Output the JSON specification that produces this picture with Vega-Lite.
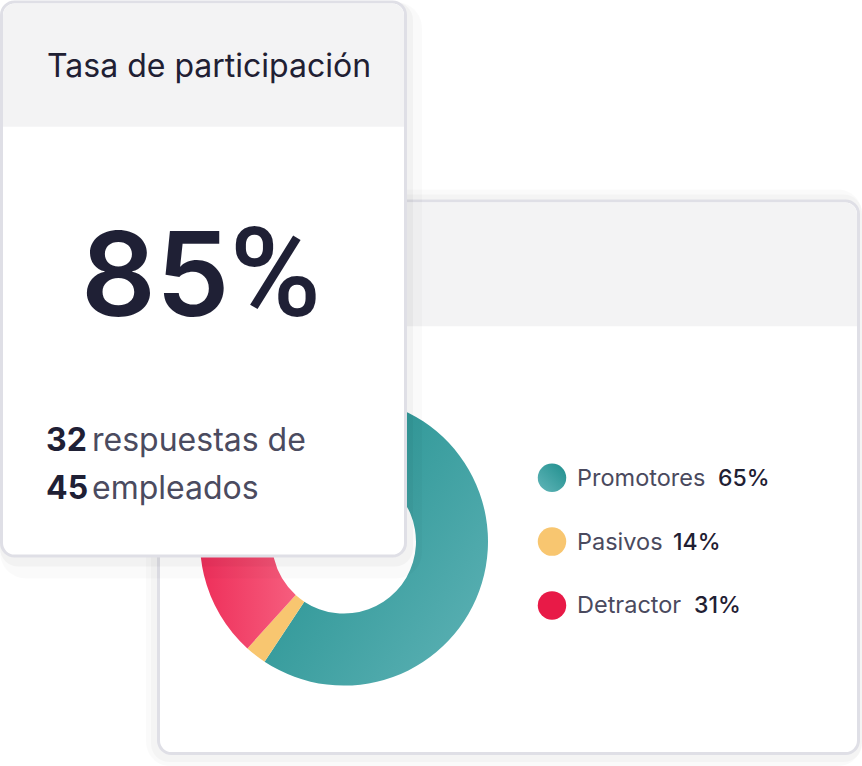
{
  "$schema": "https://vega.github.io/schema/vega-lite/v6.json",
  "width": 862,
  "height": 766,
  "autosize": {"type": "fit", "contains": "padding"},
  "padding": 0,
  "background": "#ffffff",
  "config": {"view": {"stroke": null}, "font": "Inter"},
  "datasets": {
    "slices": [
      {"k": "Promotores", "pct": "65%", "share": 59.3, "ord": 1},
      {"k": "Pasivos", "pct": "14%", "share": 2.4, "ord": 2},
      {"k": "Detractor", "pct": "31%", "share": 38.3, "ord": 3}
    ],
    "card": [
      {"title": "Tasa de participación", "rate": "85", "unit": "%", "answered": "32", "answeredLabel": "respuestas de", "total": "45", "totalLabel": "empleados"}
    ]
  },
  "data": {"values": [{}]},
  "layer": [
    {
      "mark": {"type": "rect", "fill": "#000000", "opacity": 0.02, "cornerRadius": 24},
      "encoding": {
        "x": {"datum": 146, "type": "quantitative", "scale": {"domain": [0, 862], "nice": false, "zero": false}, "axis": null},
        "x2": {"datum": 862},
        "y": {"datum": 188, "type": "quantitative", "scale": {"domain": [0, 766], "nice": false, "zero": false, "reverse": true}, "axis": null},
        "y2": {"datum": 766}
      }
    },
    {
      "mark": {"type": "rect", "fill": "#000000", "opacity": 0.025, "cornerRadius": 18},
      "encoding": {
        "x": {"datum": 151, "type": "quantitative"},
        "x2": {"datum": 862},
        "y": {"datum": 193, "type": "quantitative"},
        "y2": {"datum": 762}
      }
    },
    {
      "mark": {"type": "rect", "fill": "#ffffff", "stroke": "#dfdfe6", "strokeWidth": 3, "cornerRadius": 13},
      "encoding": {
        "x": {"datum": 158.5, "type": "quantitative"},
        "x2": {"datum": 858.5},
        "y": {"datum": 199.5, "type": "quantitative"},
        "y2": {"datum": 753.5}
      }
    },
    {
      "mark": {"type": "rect", "fill": "#f3f3f4", "cornerRadiusTopLeft": 12, "cornerRadiusTopRight": 12},
      "encoding": {
        "x": {"datum": 160, "type": "quantitative"},
        "x2": {"datum": 857},
        "y": {"datum": 201, "type": "quantitative"},
        "y2": {"datum": 325}
      }
    },
    {
      "data": {"name": "slices"},
      "mark": {"type": "arc", "outerRadius": 144, "innerRadius": 72},
      "encoding": {
        "theta": {"field": "share", "type": "quantitative", "stack": true},
        "order": {"field": "ord", "type": "quantitative"},
        "detail": {"field": "k", "type": "nominal"},
        "x": {"datum": 344, "type": "quantitative"},
        "y": {"datum": 541, "type": "quantitative"},
        "fill": {
          "condition": [
            {"test": "datum.k === 'Promotores'", "value": {"gradient": "linear", "x1": 0.1, "y1": 0.1, "x2": 1, "y2": 0.9, "stops": [{"offset": 0, "color": "#22908f"}, {"offset": 1, "color": "#5cb1b4"}]}},
            {"test": "datum.k === 'Pasivos'", "value": "#f8c670"}
          ],
          "value": {"gradient": "linear", "x1": 0, "y1": 0.5, "x2": 1, "y2": 0.5, "stops": [{"offset": 0, "color": "#ee2f5a"}, {"offset": 1, "color": "#fa7590"}]}
        }
      }
    },
    {
      "data": {"name": "slices"},
      "transform": [{"filter": "datum.k === 'Promotores'"}],
      "mark": {"type": "circle", "size": 810, "opacity": 1, "fill": {"gradient": "linear", "x1": 0, "y1": 1, "x2": 1, "y2": 0, "stops": [{"offset": 0, "color": "#62b6b9"}, {"offset": 1, "color": "#1f8e8d"}]}},
      "encoding": {"x": {"datum": 552, "type": "quantitative"}, "y": {"datum": 477, "type": "quantitative"}}
    },
    {
      "data": {"name": "slices"},
      "transform": [{"filter": "datum.k === 'Pasivos'"}],
      "mark": {"type": "circle", "size": 810, "opacity": 1, "fill": "#f8c670"},
      "encoding": {"x": {"datum": 552, "type": "quantitative"}, "y": {"datum": 541, "type": "quantitative"}}
    },
    {
      "data": {"name": "slices"},
      "transform": [{"filter": "datum.k === 'Detractor'"}],
      "mark": {"type": "circle", "size": 810, "opacity": 1, "fill": "#e81a47"},
      "encoding": {"x": {"datum": 552, "type": "quantitative"}, "y": {"datum": 605, "type": "quantitative"}}
    },
    {
      "data": {"name": "slices"},
      "transform": [{"filter": "datum.k === 'Promotores'"}],
      "mark": {"type": "text", "align": "left", "baseline": "alphabetic", "fontSize": 23.5, "color": "#4a4a5e"},
      "encoding": {"x": {"datum": 577, "type": "quantitative"}, "y": {"datum": 485, "type": "quantitative"}, "text": {"field": "k"}}
    },
    {
      "data": {"name": "slices"},
      "transform": [{"filter": "datum.k === 'Pasivos'"}],
      "mark": {"type": "text", "align": "left", "baseline": "alphabetic", "fontSize": 23.5, "color": "#4a4a5e"},
      "encoding": {"x": {"datum": 577, "type": "quantitative"}, "y": {"datum": 549, "type": "quantitative"}, "text": {"field": "k"}}
    },
    {
      "data": {"name": "slices"},
      "transform": [{"filter": "datum.k === 'Detractor'"}],
      "mark": {"type": "text", "align": "left", "baseline": "alphabetic", "fontSize": 23.5, "color": "#4a4a5e"},
      "encoding": {"x": {"datum": 577, "type": "quantitative"}, "y": {"datum": 613, "type": "quantitative"}, "text": {"field": "k"}}
    },
    {
      "data": {"name": "slices"},
      "transform": [{"filter": "datum.k === 'Promotores'"}],
      "mark": {"type": "text", "align": "left", "baseline": "alphabetic", "fontSize": 23, "fontWeight": 500, "color": "#1f2033"},
      "encoding": {"x": {"datum": 718, "type": "quantitative"}, "y": {"datum": 485, "type": "quantitative"}, "text": {"field": "pct"}}
    },
    {
      "data": {"name": "slices"},
      "transform": [{"filter": "datum.k === 'Pasivos'"}],
      "mark": {"type": "text", "align": "left", "baseline": "alphabetic", "fontSize": 23, "fontWeight": 500, "color": "#1f2033"},
      "encoding": {"x": {"datum": 673, "type": "quantitative"}, "y": {"datum": 549, "type": "quantitative"}, "text": {"field": "pct"}}
    },
    {
      "data": {"name": "slices"},
      "transform": [{"filter": "datum.k === 'Detractor'"}],
      "mark": {"type": "text", "align": "left", "baseline": "alphabetic", "fontSize": 23, "fontWeight": 500, "color": "#1f2033"},
      "encoding": {"x": {"datum": 694, "type": "quantitative"}, "y": {"datum": 613, "type": "quantitative"}, "text": {"field": "pct"}}
    },
    {
      "mark": {"type": "rect", "fill": "#000000", "opacity": 0.02, "cornerRadius": 26},
      "encoding": {
        "x": {"datum": 0, "type": "quantitative"},
        "x2": {"datum": 422},
        "y": {"datum": 0, "type": "quantitative"},
        "y2": {"datum": 578}
      }
    },
    {
      "mark": {"type": "rect", "fill": "#000000", "opacity": 0.03, "cornerRadius": 18},
      "encoding": {
        "x": {"datum": 0, "type": "quantitative"},
        "x2": {"datum": 413},
        "y": {"datum": 0, "type": "quantitative"},
        "y2": {"datum": 566}
      }
    },
    {
      "mark": {"type": "rect", "fill": "#ffffff", "stroke": "#dfdfe6", "strokeWidth": 3, "cornerRadius": 13},
      "encoding": {
        "x": {"datum": 1.5, "type": "quantitative"},
        "x2": {"datum": 405.5},
        "y": {"datum": 0, "type": "quantitative"},
        "y2": {"datum": 555.5}
      }
    },
    {
      "mark": {"type": "rect", "fill": "#f3f3f4", "cornerRadiusTopLeft": 12, "cornerRadiusTopRight": 12},
      "encoding": {
        "x": {"datum": 3, "type": "quantitative"},
        "x2": {"datum": 404},
        "y": {"datum": 1.5, "type": "quantitative"},
        "y2": {"datum": 125}
      }
    },
    {
      "data": {"name": "card"},
      "mark": {"type": "text", "align": "left", "baseline": "alphabetic", "fontSize": 32, "color": "#1f2033"},
      "encoding": {"x": {"datum": 47, "type": "quantitative"}, "y": {"datum": 75, "type": "quantitative"}, "text": {"field": "title"}}
    },
    {
      "data": {"name": "card"},
      "mark": {"type": "text", "align": "left", "baseline": "alphabetic", "fontSize": 117, "fontWeight": 600, "color": "#1f2035"},
      "encoding": {"x": {"datum": 81, "type": "quantitative"}, "y": {"datum": 315, "type": "quantitative"}, "text": {"field": "rate"}}
    },
    {
      "data": {"name": "card"},
      "mark": {"type": "text", "align": "right", "baseline": "alphabetic", "fontSize": 124, "fontWeight": 500, "font": "Roboto", "color": "#1f2035"},
      "encoding": {"x": {"datum": 321, "type": "quantitative"}, "y": {"datum": 315, "type": "quantitative"}, "text": {"field": "unit"}}
    },
    {
      "data": {"name": "card"},
      "mark": {"type": "text", "align": "left", "baseline": "alphabetic", "fontSize": 32, "fontWeight": 700, "color": "#1f2035"},
      "encoding": {"x": {"datum": 46, "type": "quantitative"}, "y": {"datum": 450, "type": "quantitative"}, "text": {"field": "answered"}}
    },
    {
      "data": {"name": "card"},
      "mark": {"type": "text", "align": "left", "baseline": "alphabetic", "fontSize": 32, "color": "#4b4b5f"},
      "encoding": {"x": {"datum": 92, "type": "quantitative"}, "y": {"datum": 450, "type": "quantitative"}, "text": {"field": "answeredLabel"}}
    },
    {
      "data": {"name": "card"},
      "mark": {"type": "text", "align": "left", "baseline": "alphabetic", "fontSize": 32, "fontWeight": 700, "color": "#1f2035"},
      "encoding": {"x": {"datum": 46, "type": "quantitative"}, "y": {"datum": 498, "type": "quantitative"}, "text": {"field": "total"}}
    },
    {
      "data": {"name": "card"},
      "mark": {"type": "text", "align": "left", "baseline": "alphabetic", "fontSize": 32, "color": "#4b4b5f"},
      "encoding": {"x": {"datum": 92, "type": "quantitative"}, "y": {"datum": 498, "type": "quantitative"}, "text": {"field": "totalLabel"}}
    }
  ]
}
